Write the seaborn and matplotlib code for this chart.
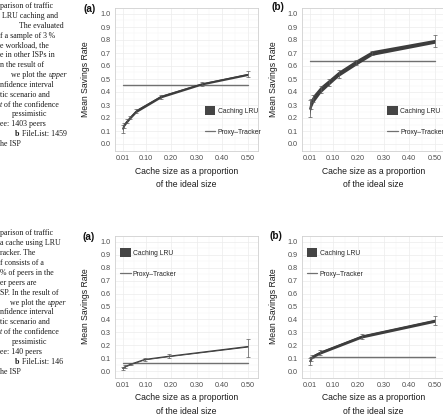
# Caching LRU vs Proxy-Tracker: Mean Savings Rate against cache size (two figures, panels a/b)

import matplotlib
matplotlib.use("Agg")
import matplotlib.pyplot as plt
from matplotlib.lines import Line2D
from matplotlib.patches import Patch
import numpy as np
import seaborn as sns

# ---- values ----
# upper figure, panel (a)
up_a_x = [0.01, 0.015, 0.027, 0.04, 0.064, 0.16, 0.32, 0.50]
up_a_mean = [0.115, 0.145, 0.175, 0.205, 0.255, 0.365, 0.462, 0.535]
up_a_band_lo = [0.100, 0.132, 0.163, 0.193, 0.243, 0.355, 0.454, 0.527]
up_a_band_hi = [0.130, 0.158, 0.187, 0.217, 0.267, 0.375, 0.470, 0.543]
up_a_bar_lo = [0.085, 0.125, 0.160, 0.193, 0.240, 0.350, 0.445, 0.512]
up_a_bar_hi = [0.145, 0.165, 0.190, 0.217, 0.270, 0.380, 0.480, 0.558]
up_a_proxy = 0.455

# upper figure, panel (b)
up_b_x = [0.01, 0.015, 0.025, 0.053, 0.085, 0.123, 0.19, 0.254, 0.50]
up_b_mean = [0.27, 0.31, 0.35, 0.42, 0.475, 0.54, 0.625, 0.70, 0.79]
up_b_band_lo = [0.22, 0.275, 0.32, 0.395, 0.453, 0.52, 0.605, 0.682, 0.775]
up_b_band_hi = [0.32, 0.345, 0.38, 0.445, 0.497, 0.56, 0.645, 0.718, 0.805]
up_b_bar_lo = [0.205, 0.27, 0.32, 0.39, 0.45, 0.51, 0.605, 0.685, 0.745]
up_b_bar_hi = [0.335, 0.35, 0.38, 0.45, 0.50, 0.57, 0.645, 0.715, 0.84]
up_b_proxy = 0.64

# lower figure, panel (a)
lo_a_x = [0.01, 0.02, 0.044, 0.096, 0.192, 0.50]
lo_a_mean = [0.02, 0.035, 0.055, 0.09, 0.115, 0.19]
lo_a_band_lo = [0.017, 0.032, 0.052, 0.087, 0.112, 0.186]
lo_a_band_hi = [0.023, 0.038, 0.058, 0.093, 0.118, 0.194]
lo_a_bar_lo = [0.008, 0.025, 0.045, 0.078, 0.100, 0.105]
lo_a_bar_hi = [0.032, 0.045, 0.065, 0.102, 0.130, 0.250]
lo_a_proxy = 0.06

# lower figure, panel (b)
lo_b_x = [0.01, 0.015, 0.021, 0.052, 0.214, 0.50]
lo_b_mean = [0.075, 0.095, 0.113, 0.144, 0.268, 0.39]
lo_b_band_lo = [0.060, 0.083, 0.101, 0.132, 0.256, 0.378]
lo_b_band_hi = [0.090, 0.107, 0.125, 0.156, 0.280, 0.402]
lo_b_bar_lo = [0.050, 0.080, 0.100, 0.125, 0.245, 0.355]
lo_b_bar_hi = [0.100, 0.110, 0.125, 0.165, 0.290, 0.430]
lo_b_proxy = 0.108

proxy_x = [0.01, 0.50]
x_ticks = [0.01, 0.10, 0.20, 0.30, 0.40, 0.50]
x_ticklabels = ["0.01", "0.10", "0.20", "0.30", "0.40", "0.50"]
y_ticks = [0.0, 0.1, 0.2, 0.3, 0.4, 0.5, 0.6, 0.7, 0.8, 0.9, 1.0]
y_ticklabels = [f"{v:.1f}" for v in y_ticks]
series_names = ["Caching LRU", "Proxy\u2013Tracker"]

# caption fragments cut off at the left edge of the page crop
# (x offset px, text); _x_ = italic, ^x^ = bold
caption_top = [
    (0, "parison of traffic"), (2, "LRU caching and"), (19, "The evaluated"),
    (0, "f a sample of 3\u2009%"), (0, "e workload, the"), (0, "e in other ISPs in"),
    (0, "n the result of"), (11, "we plot the _upper_"), (0, "nfidence interval"),
    (0, "tic scenario and"), (0, "_t_ of the confidence"), (12, "pessimistic"),
    (0, "ee: 1403 peers"), (15, "^b^ FileList: 1459"), (0, "he ISP"),
]
caption_bottom = [
    (0, "parison of traffic"), (0, "a cache using LRU"), (0, "racker. The"),
    (0, "f consists of a"), (0, "% of peers in the"), (0, "er peers are"),
    (0, "SP. In the result of"), (10, "we plot the _upper_"), (0, "nfidence interval"),
    (0, "tic scenario and"), (0, "_t_ of the confidence"), (12, "pessimistic"),
    (0, "ee: 140 peers"), (15, "^b^ FileList: 146"), (0, "he ISP"),
]

W, H = 443, 416
RIBBON = "#3d3d3d"
PROXY = "#707070"
GRID = "#ececec"

sns.set_theme(style="whitegrid")
plt.rcParams["font.family"] = ["Liberation Sans", "DejaVu Sans"]

fig = plt.figure(figsize=(W / 100, H / 100), dpi=100)
fig.patch.set_facecolor("white")


def px_axes(left, top, width, height):
    return fig.add_axes([left / W, 1 - (top + height) / H, width / W, height / H])


def draw_panel(ax, x, mean, band_lo, band_hi, bar_lo, bar_hi, proxy, legend_at, ylabel_x):
    ax.set_facecolor("white")
    ax.fill_between(x, band_lo, band_hi, color=RIBBON, linewidth=0, zorder=3)
    sns.lineplot(x=x, y=mean, ax=ax, color=RIBBON, linewidth=0.8, zorder=3)
    mean_arr = np.array(mean)
    yerr = [mean_arr - np.array(bar_lo), np.array(bar_hi) - mean_arr]
    ax.errorbar(x, mean, yerr=yerr, fmt="none", ecolor="#5a5a5a",
                elinewidth=0.5, capsize=1.3, capthick=0.5, zorder=4)
    sns.lineplot(x=proxy_x, y=[proxy, proxy], ax=ax, color=PROXY, linewidth=1.0, zorder=2)

    ax.set_xlim(-0.02, 0.54)
    ax.set_ylim(-0.05, 1.05)
    ax.set_xticks(x_ticks)
    ax.set_xticklabels(x_ticklabels)
    ax.set_yticks(y_ticks)
    ax.set_yticklabels(y_ticklabels)
    ax.set_xticks([0.055, 0.15, 0.25, 0.35, 0.45], minor=True)
    ax.set_yticks(np.arange(0.05, 1.0, 0.1), minor=True)
    ax.grid(which="major", color=GRID, linewidth=0.5)
    ax.grid(which="minor", color="#f5f5f5", linewidth=0.35)
    ax.tick_params(which="major", length=1.8, width=0.5, color="#8a8a8a",
                   labelsize=5.2, labelcolor="#4d4d4d", pad=1.3)
    ax.tick_params(which="minor", length=0)
    for side in ax.spines.values():
        side.set_visible(True)
        side.set_color("#d0d0d0")
        side.set_linewidth(0.6)

    ax.set_xlabel("Cache size as a proportion\nof the ideal size", fontsize=6.2,
                  color="#1a1a1a", linespacing=1.6)
    ax.xaxis.set_label_coords(0.5, -0.112)
    ax.set_ylabel("Mean Savings Rate", fontsize=6.2, color="#1a1a1a")
    ax.yaxis.set_label_coords(ylabel_x, 0.5)

    handles = [Patch(facecolor="#454545", edgecolor="none"),
               Line2D([], [], color=PROXY, linewidth=0.9)]
    ax.legend(handles=handles, labels=series_names, loc="upper left",
              bbox_to_anchor=legend_at, frameon=False, fontsize=4.9,
              handlelength=1.55, handleheight=1.6, handletextpad=0.35,
              labelspacing=1.85, borderpad=0, borderaxespad=0)


panels = [
    (115, 7.5, up_a_x, up_a_mean, up_a_band_lo, up_a_band_hi, up_a_bar_lo, up_a_bar_hi,
     up_a_proxy, (0.627, 0.311), -0.178),
    (302, 7.5, up_b_x, up_b_mean, up_b_band_lo, up_b_band_hi, up_b_bar_lo, up_b_bar_hi,
     up_b_proxy, (0.595, 0.311), -0.165),
    (115, 235.5, lo_a_x, lo_a_mean, lo_a_band_lo, lo_a_band_hi, lo_a_bar_lo, lo_a_bar_hi,
     lo_a_proxy, (0.035, 0.91), -0.178),
    (302, 235.5, lo_b_x, lo_b_mean, lo_b_band_lo, lo_b_band_hi, lo_b_bar_lo, lo_b_bar_hi,
     lo_b_proxy, (0.033, 0.91), -0.165),
]
for left, top, *series, legend_at, ylabel_x in panels:
    ax = px_axes(left, top, 143, 143 if top < 100 else 142)
    draw_panel(ax, *series, legend_at, ylabel_x)

# panel tags
for tag, px, py in [("(a)", 90, 9), ("(b)", 278, 7.5), ("(a)", 89, 237), ("(b)", 276, 236)]:
    fig.text(px / W, 1 - py / H, tag, fontsize=7.2, fontweight="bold",
             ha="center", va="center", color="#111111")


def caption_line(x_px, y_px, line):
    if "^" in line:
        pieces, alt = line.split("^"), {"fontweight": "bold"}
    elif "_" in line:
        pieces, alt = line.split("_"), {"fontstyle": "italic"}
    else:
        pieces, alt = [line], {}
    last = None
    for i, piece in enumerate(pieces):
        if not piece:
            continue
        style = dict(fontsize=5.7, color="#1a1a1a", va="center", ha="left",
                     family=["Liberation Serif", "DejaVu Serif"])
        if i % 2 == 1:
            style.update(alt)
        if last is None:
            last = fig.text(x_px / W, 1 - y_px / H, piece, **style)
        else:
            # continue the line right after the previous piece
            last = fig.axes[0].annotate(piece, xy=(1, 0.5), xycoords=last,
                                        annotation_clip=False, **style)


for lines, first_y, step in [(caption_top, 6, 9.86), (caption_bottom, 233, 9.93)]:
    for k, (x_off, text) in enumerate(lines):
        caption_line(x_off, first_y + k * step, text)

fig.savefig("out.png", dpi=100)
